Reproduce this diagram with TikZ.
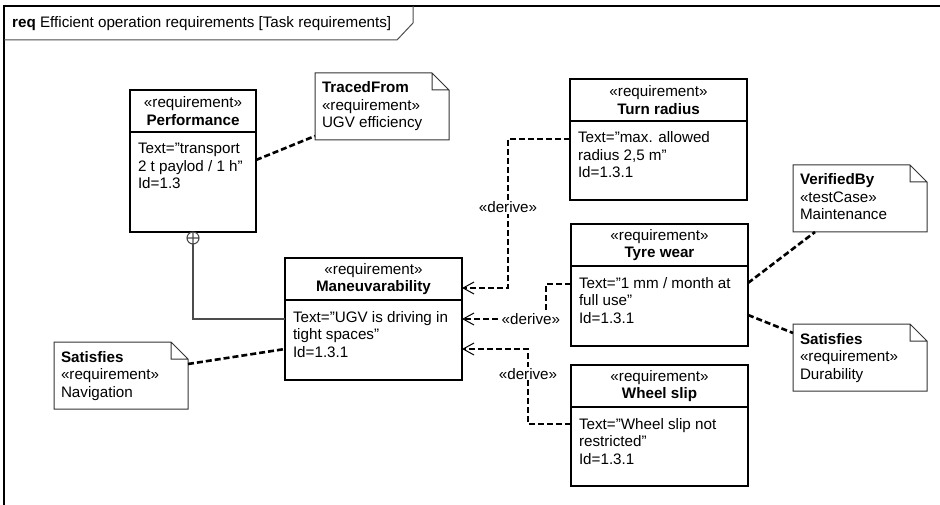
\documentclass[tikz,border=0pt]{standalone}
\usepackage{fontspec}
\setmainfont{Liberation Sans}
\usepackage{tikz}
\usetikzlibrary{arrows.meta,calc,positioning}
\tikzset{>={Straight Barb[length=11pt,width=12pt,line width=1pt]}}

\newcommand{\reqtext}[3]{\parbox[t][#2][t]{#1}{\raggedright\leftskip=8pt\rule{0pt}{22pt}#3}}
\newcommand{\notetext}[1]{\parbox[t][67pt][t]{134pt}{\raggedright\leftskip=7pt\rule{0pt}{20pt}#1}}

\tikzset{
  reqhead/.style={draw, line width=1.5pt, anchor=north west, outer sep=0pt, minimum width=#1, minimum height=42pt, inner sep=0pt, align=center},
  reqhead/.default=177pt,
  reqbody/.style={draw, line width=1.5pt, anchor=north west, outer sep=0pt, inner sep=0pt},
  notebox/.style={anchor=north west, outer sep=0pt, inner sep=0pt},
  noteline/.style={draw=black!80, line width=1pt},
  tracelink/.style={line width=2.6pt, dash pattern=on 6pt off 3pt},
  derive/.style={tracelink, ->},
  dlabel/.style={fill=white, inner sep=1pt},
  contain/.style={draw=black!70, line width=1.1pt}
}

\begin{document}
\begin{tikzpicture}[x=1pt, y=-1pt, font=\fontsize{15.2pt}{17.5pt}\selectfont]
                    \useasboundingbox (0,0) rectangle (940,505);
                    \draw[line width=1.6pt] (4,505) -- (4,6) -- (940,6);
                    \node[anchor=base west, inner sep=0pt] (frametitle) at (12,28) {\textbf{req} Efficient operation requirements [Task requirements]};
                    \draw[black!70, line width=1pt] (4,40) -- (397,40) -- (413,23) -- (413,6);

                    \node[reqhead=126pt] (perf) at (130,90) {«requirement»\\\textbf{Performance}};
                    \node[reqbody] (perf-body) at (perf.south west) {\reqtext{126pt}{100pt}{Text=”transport\\2 t paylod / 1 h”\\Id=1.3}};
                    \node[reqhead] (turn) at (570,79) {«requirement»\\\textbf{Turn radius}};
                    \node[reqbody] (turn-body) at (turn.south west) {\reqtext{177pt}{79pt}{Text=”max. allowed\\radius 2,5 m”\\Id=1.3.1}};
                    \node[reqhead] (man) at (285,258) {«requirement»\\\textbf{Maneuvarability}};
                    \node[reqbody] (man-body) at (man.south west) {\reqtext{177pt}{80pt}{Text=”UGV is driving in\\tight spaces”\\Id=1.3.1}};
                    \node[reqhead] (tyre) at (571,224) {«requirement»\\\textbf{Tyre wear}};
                    \node[reqbody] (tyre-body) at (tyre.south west) {\reqtext{177pt}{80pt}{Text=”1 mm / month at\\full use”\\Id=1.3.1}};
                    \node[reqhead] (slip) at (571,365) {«requirement»\\\textbf{Wheel slip}};
                    \node[reqbody] (slip-body) at (slip.south west) {\reqtext{177pt}{79pt}{Text=”Wheel slip not\\restricted”\\Id=1.3.1}};

                    \node[notebox] (traced) at (315,73) {\notetext{\textbf{TracedFrom}\\«requirement»\\UGV efficiency}};
                    \node[notebox] (verif) at (793,165) {\notetext{\textbf{VerifiedBy}\\«testCase»\\Maintenance}};
                    \node[notebox] (dur) at (793,324) {\notetext{\textbf{Satisfies}\\«requirement»\\Durability}};
                    \node[notebox] (nav) at (54,342) {\notetext{\textbf{Satisfies}\\«requirement»\\Navigation}};
                    \foreach \n in {traced,verif,dur,nav}
                        \draw[noteline] (\n.north west) -- ([xshift=-17pt]\n.north east) -- ([yshift=-17pt]\n.north east) -- (\n.south east) -- (\n.south west) -- cycle
                            ([xshift=-17pt]\n.north east) |- ([yshift=-17pt]\n.north east);

                    \draw[derive] ([yshift=-18pt]turn-body.north west) -- ++(-62,0) |- node[dlabel,pos=0.23] {«derive»} ([yshift=-30pt]man.north east);
                    \draw[derive] ([yshift=-18pt]tyre-body.north west) -- ++(-25,0) |- node[dlabel,pos=0.59] {«derive»} ([yshift=-19pt]man-body.north east);
                    \draw[derive] ([yshift=-17pt]slip-body.north west) -- ++(-43,0) |- node[dlabel,pos=0.335] {«derive»} ([yshift=-49pt]man-body.north east);

                    \draw[contain] ([yshift=-6pt]perf-body.south) circle[radius=6pt] +(-6pt,0) -- +(6pt,0) +(0,-6pt) -- +(0,6pt);
                    \draw[contain] ([yshift=-12pt]perf-body.south) |- ([yshift=-19pt]man-body.north west);

                    \draw[tracelink] ([yshift=-28pt]perf-body.north east) -- ([yshift=4pt]traced.south west);
                    \draw[tracelink] ([yshift=-22pt]nav.north east) -- ([yshift=-49pt]man-body.north west);
                    \draw[tracelink] ([yshift=-17pt]tyre-body.north east) -- ([xshift=22pt]verif.south west);
                    \draw[tracelink] ([yshift=-49pt]tyre-body.north east) -- ([yshift=-9pt]dur.north west);
                \end{tikzpicture}
\end{document}
